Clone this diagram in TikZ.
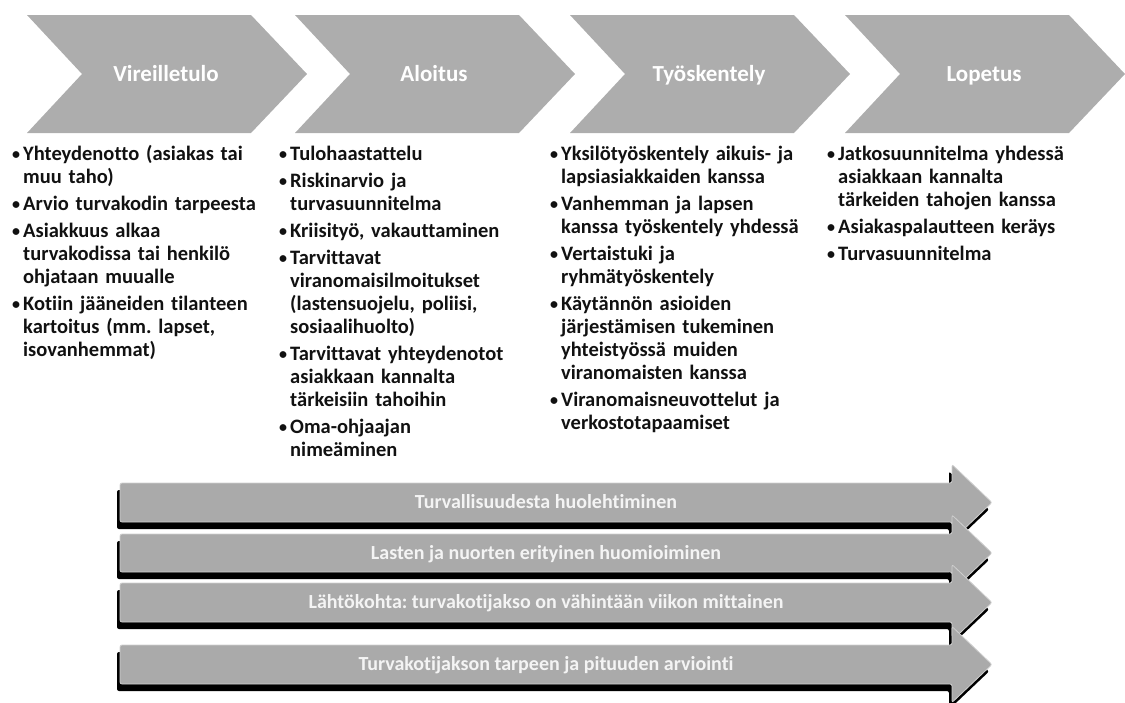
\documentclass[tikz,border=0pt]{standalone}
\usepackage{fontspec}
\setmainfont[Ligatures=NoCommon]{Carlito}
\definecolor{chevgray}{HTML}{ADADAD}
\definecolor{arrgray}{HTML}{AAAAAA}
\definecolor{arredge}{HTML}{CFCFCF}
\definecolor{lbl}{HTML}{F4F4F4}
\definecolor{txt}{HTML}{111111}
\newcommand\itm[1]{\par\raggedright\hangindent=11pt\hangafter=1\noindent\makebox[11pt][l]{{\fontsize{16}{16}\selectfont\raisebox{0.8pt}{•}}}#1\par\vspace{4pt}}
\newcommand\nl{\newline}
\begin{document}
\frenchspacing
\begin{tikzpicture}[x=1pt,y=-1pt]
\tikzset{
  chevlabel/.style={text=white,anchor=base,font=\bfseries\fontsize{23}{27}\selectfont},
  listtext/.style={anchor=north west,inner sep=0pt,text width=300pt,
    font=\bfseries\fontsize{20.5}{23}\selectfont\frenchspacing,text=txt},
  arrowlabel/.style={text=lbl,anchor=base,font=\bfseries\fontsize{20}{24}\selectfont},
  arrowface/.style={fill=arrgray,draw=arredge,line width=0.8pt,rounded corners=2pt},
  arrowshadow/.style={fill=black,rounded corners=2pt},
}
\useasboundingbox (0,0) rectangle (1125,702);
% chevrons
\foreach \x/\n/\t in {27/c1/Vireilletulo,295/c2/Aloitus,570/c3/Työskentely,845/c4/Lopetus}{
  \fill[chevgray] (\x,15) -- ++(224,0) -- ++(56,59) -- ++(-56,59) -- ++(-224,0) -- ++(55,-59) -- cycle;
  \node[chevlabel] (\n) at (\x+139,81) {\t};
}
% lists
\node[listtext] (l1) at (12,137) {%
\itm{Yhteydenotto (asiakas tai\nl muu taho)}%
\itm{Arvio turvakodin tarpeesta}%
\itm{Asiakkuus alkaa\nl turvakodissa tai henkilö\nl ohjataan muualle}%
\itm{Kotiin jääneiden tilanteen\nl kartoitus (mm. lapset,\nl isovanhemmat)}};
\node[listtext] (l2) at (279,137) {%
\itm{Tulohaastattelu}%
\itm{Riskinarvio ja\nl turvasuunnitelma}%
\itm{Kriisityö, vakauttaminen}%
\itm{Tarvittavat\nl viranomaisilmoitukset\nl (lastensuojelu, poliisi,\nl sosiaalihuolto)}%
\itm{Tarvittavat yhteydenotot\nl asiakkaan kannalta\nl tärkeisiin tahoihin}%
\itm{Oma-ohjaajan\nl nimeäminen}};
\node[listtext] (l3) at (550,137) {%
\itm{Yksilötyöskentely aikuis- ja\nl lapsiasiakkaiden kanssa}%
\itm{Vanhemman ja lapsen\nl kanssa työskentely yhdessä}%
\itm{Vertaistuki ja\nl ryhmätyöskentely}%
\itm{Käytännön asioiden\nl järjestämisen tukeminen\nl yhteistyössä muiden\nl viranomaisten kanssa}%
\itm{Viranomaisneuvottelut ja\nl verkostotapaamiset}};
\node[listtext] (l4) at (827,137) {%
\itm{Jatkosuunnitelma yhdessä\nl asiakkaan kannalta\nl tärkeiden tahojen kanssa}%
\itm{Asiakaspalautteen keräys}%
\itm{Turvasuunnitelma}};
% arrows
\foreach \yt/\yb/\n/\t in {483/522/a1/Turvallisuudesta huolehtiminen,
  534/572/a2/Lasten ja nuorten erityinen huomioiminen,
  583/622/a3/Lähtökohta: turvakotijakso on vähintään viikon mittainen,
  645/684/a4/Turvakotijakson tarpeen ja pituuden arviointi}{
  \pgfmathsetmacro\yc{(\yt+\yb)/2}
  \pgfmathsetmacro\hu{\yc-38}
  \pgfmathsetmacro\hd{\yc+38}
  \pgfmathsetmacro\yl{\yc+6}
  \begin{scope}[shift={(-3,7)}]
    \fill[arrowshadow] (120,\yt) -- (952,\yt) -- (952,\hu) -- (992,\yc) -- (952,\hd) -- (952,\yb) -- (120,\yb) -- cycle;
  \end{scope}
  \path[arrowface] (120,\yt) -- (952,\yt) -- (952,\hu) -- (992,\yc) -- (952,\hd) -- (952,\yb) -- (120,\yb) -- cycle;
  \node[arrowlabel] (\n) at (546,\yl) {\t};
}
\end{tikzpicture}
\end{document}
